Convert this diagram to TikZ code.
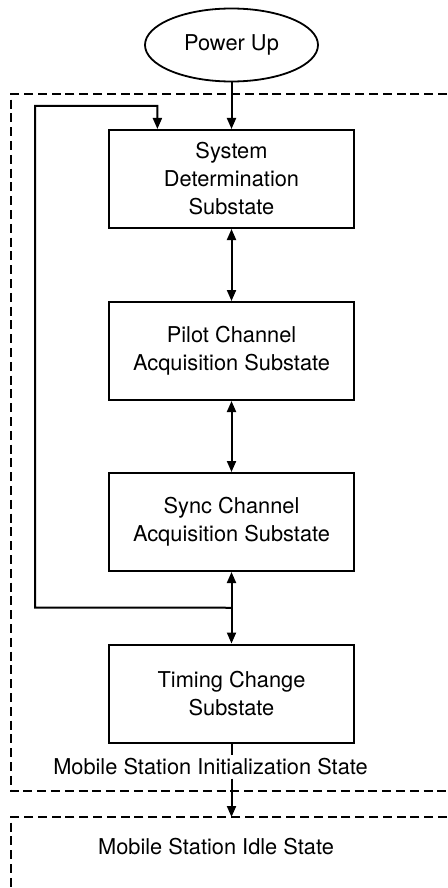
\documentclass[tikz,border=0pt]{standalone}
\usepackage{fontspec}
\setmainfont{TeX Gyre Heros}
\usetikzlibrary{arrows.meta,shapes.geometric,calc}
\definecolor{msInk}{HTML}{000000}
\definecolor{msPaper}{HTML}{FFFFFF}
\tikzset{
  ms box/.style={draw=msInk, line width=1pt, minimum width=122.5pt, minimum height=49pt, align=center, inner sep=2pt, font=\fontsize{10.9}{14}\selectfont},
  ms start/.style={ellipse, draw=msInk, line width=0.9pt, minimum width=86.5pt, minimum height=36.5pt, inner sep=0pt, font=\fontsize{10.9}{14}\selectfont},
  ms frame/.style={draw=msInk, line width=0.8pt, dash pattern=on 4.5pt off 2.4pt},
  ms arrow/.style={draw=msInk, line width=1pt, -{Triangle[length=5.5pt,width=4.5pt]}},
  ms twoway/.style={draw=msInk, line width=1pt, {Triangle[length=5.5pt,width=4.5pt]}-{Triangle[length=5.5pt,width=4.5pt]}},
  ms label/.style={font=\fontsize{10.9}{14}\selectfont, text=msInk, fill=msPaper, inner sep=1.5pt},
}

\begin{document}
\begin{tikzpicture}[x=0.5pt, y=-0.5pt]
  \useasboundingbox[fill=msPaper] (0,0) rectangle (447,888);

  % Dashed frames of the two states, open to the right and below
  \draw[ms frame] (447,94) -- (11,94) -- (11,791) -- (447,791);
  \draw[ms frame] (447,817) -- (11,817) -- (11,888);
  \coordinate (idletop) at (231.5,817);

  % Start and the four substates
  \node[ms start] (power) at (231.5,45) {Power Up};
  \node[ms box] (sysdet) at (231.5,179) {System\\Determination\\Substate};
  \node[ms box] (pilot) at (231.5,351) {Pilot Channel\\Acquisition Substate};
  \node[ms box] (sync) at (231.5,522) {Sync Channel\\Acquisition Substate};
  \node[ms box] (timing) at (231.5,693.5) {Timing Change\\Substate};

  % State names
  \node[ms label] (initlabel) at (210.5,767) {Mobile Station Initialization State};
  \node[ms label] (idlelabel) at (216,847) {Mobile Station Idle State};

  % Transitions between substates
  \draw[ms arrow] (power) -- (sysdet);
  \draw[ms twoway] (sysdet) -- (pilot);
  \draw[ms twoway] (pilot) -- (sync);
  \draw[ms twoway] (sync) -- (timing);

  % Return path back to system determination
  \coordinate (fork) at ($(sync.south)!0.5!(timing.north)$);
  \coordinate (loopin) at ($(sysdet.north west)!0.2!(sysdet.north east)$);
  \draw[ms arrow] (fork) -- (35,607.5) -- (35,106) -| (loopin);

  % Exit to the idle state, broken by the state name
  \draw[draw=msInk, line width=1pt] (timing.south) -- (timing.south |- initlabel.north);
  \draw[ms arrow] (timing.south |- initlabel.south) -- (idletop);
\end{tikzpicture}
\end{document}
